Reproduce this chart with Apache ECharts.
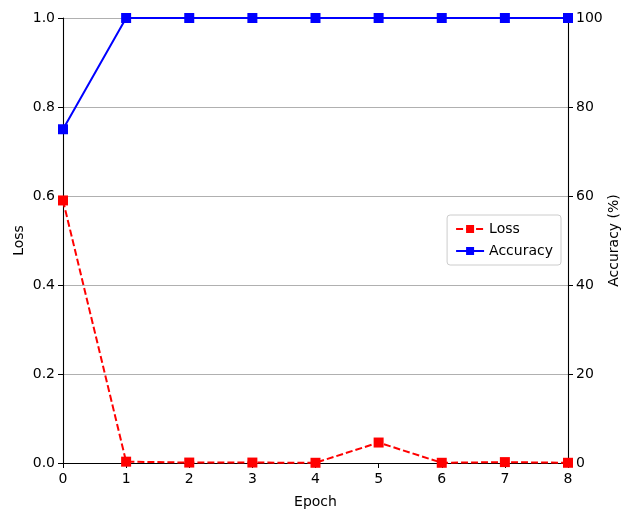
<!DOCTYPE html>
<html>
<head>
<meta charset="utf-8">
<script src="https://cdn.jsdelivr.net/npm/echarts@6/dist/echarts.min.js"></script>
<style>
  html, body { margin: 0; padding: 0; background: #fff; }
  #chart { width: 624px; height: 509px; }
</style>
</head>
<body>
<div id="chart"></div>
<script>
// data
const epochs = [0, 1, 2, 3, 4, 5, 6, 7, 8];
const lossValues = [0.59, 0.003, 0.001, 0.001, 0.0005, 0.046, 0.0005, 0.002, 0.0005];
const accuracyValues = [75, 100, 100, 100, 100, 100, 100, 100, 100];

const font = "DejaVu Sans";

let myChart = echarts.init(document.getElementById("chart"));
myChart.setOption({
  animation: false,
  textStyle: { fontFamily: font },
  grid: { left: 63, right: 56, top: 18, bottom: 46, outerBoundsMode: "none", containLabel: false },
  legend: {
    orient: "vertical",
    right: 63,
    top: 215,
    padding: [7, 8, 7, 8],
    itemGap: 8,
    itemWidth: 28,
    itemHeight: 10,
    borderColor: "#ccc",
    borderWidth: 1,
    borderRadius: 3,
    backgroundColor: "#fff",
    textStyle: { fontFamily: font, fontSize: 14, color: "#000" },
    data: ["Loss", "Accuracy"]
  },
  xAxis: {
    type: "value",
    min: 0,
    max: 8,
    interval: 1,
    name: "Epoch",
    nameLocation: "middle",
    nameGap: 32,
    nameTextStyle: { fontSize: 14, color: "#000" },
    axisLine: { lineStyle: { color: "#000", width: 1.1 } },
    axisTick: { show: true, length: 5, lineStyle: { color: "#000" } },
    axisLabel: { fontSize: 14, color: "#000", margin: 9 },
    splitLine: { show: false }
  },
  yAxis: [
    {
      type: "value",
      min: 0,
      max: 1,
      interval: 0.2,
      name: "Loss",
      nameLocation: "middle",
      nameGap: 37,
      nameMoveOverlap: false,
      nameTextStyle: { fontSize: 14, color: "#000" },
      axisLine: { show: true, lineStyle: { color: "#000", width: 1.1 } },
      axisTick: { show: true, length: 5, lineStyle: { color: "#000" } },
      axisLabel: { fontSize: 14, color: "#000", margin: 8, formatter: v => v.toFixed(1) },
      splitLine: { show: true, lineStyle: { color: "#b0b0b0", width: 1 } }
    },
    {
      type: "value",
      min: 0,
      max: 100,
      interval: 20,
      name: "Accuracy (%)",
      nameLocation: "middle",
      nameGap: 39,
      nameMoveOverlap: false,
      nameRotate: 90,
      nameTextStyle: { fontSize: 14, color: "#000" },
      axisLine: { show: true, lineStyle: { color: "#000", width: 1.1 } },
      axisTick: { show: true, length: 5, lineStyle: { color: "#000" } },
      axisLabel: { fontSize: 14, color: "#000", margin: 8 },
      splitLine: { show: false }
    }
  ],
  series: [
    {
      name: "Loss",
      type: "line",
      yAxisIndex: 0,
      data: epochs.map((e, i) => [e, lossValues[i]]),
      symbol: "rect",
      symbolSize: 10,
      itemStyle: { color: "#ff0000" },
      lineStyle: { color: "#ff0000", width: 2, type: [7, 3] },
      clip: true,
      z: 3
    },
    {
      name: "Accuracy",
      type: "line",
      yAxisIndex: 1,
      data: epochs.map((e, i) => [e, accuracyValues[i]]),
      symbol: "rect",
      symbolSize: 10,
      itemStyle: { color: "#0000ff" },
      lineStyle: { color: "#0000ff", width: 2 },
      clip: true,
      z: 4
    }
  ]
});
</script>
</body>
</html>
